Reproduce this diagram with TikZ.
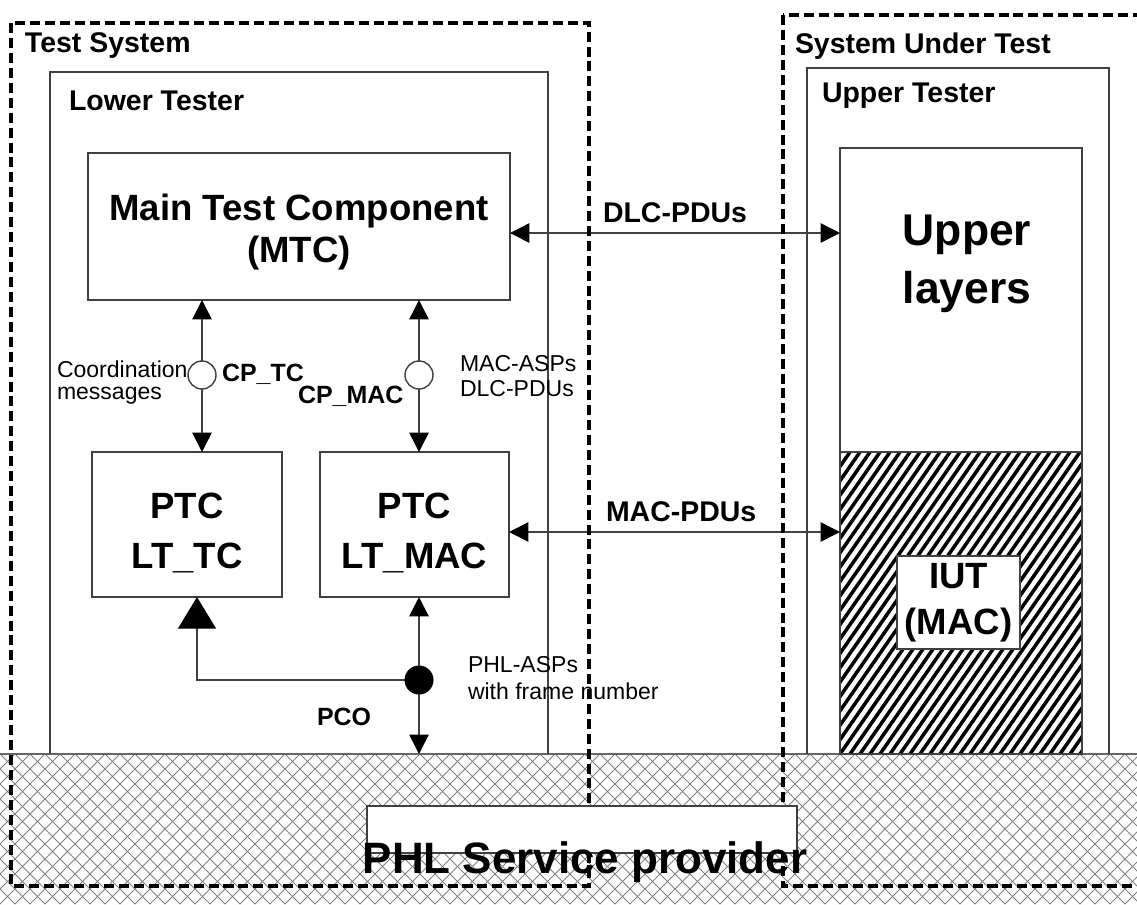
\documentclass[tikz,border=0pt]{standalone}
\usepackage{fontspec}
\setmainfont{Liberation Sans}
\usepackage{tikz}
\usetikzlibrary{arrows.meta,positioning,calc}

\begin{document}
\begin{tikzpicture}[x=0.2mm, y=-0.2mm, outer sep=0pt,
    >={Triangle[length=11pt, width=11pt, color=black]},
    frame/.style={draw=black!75, line width=0.8pt},
    box/.style={rectangle, draw=black!75, line width=0.8pt, fill=white, inner sep=0pt, align=center},
    comp/.style={inner sep=0pt, align=center, font=\fontsize{20.8}{#1}\selectfont\bfseries},
    sysline/.style={draw=black, line width=2.3pt, dash pattern=on 5.7pt off 2.8pt},
    title/.style={inner sep=0pt, font=\fontsize{16.2}{19}\selectfont\bfseries},
    cplabel/.style={inner sep=0pt, font=\fontsize{14.2}{17}\selectfont\bfseries},
    note/.style={inner sep=0pt, align=left},
    link/.style={draw=black!75, line width=0.85pt},
    cross/.style={draw=black!50, line width=0.5pt},
    stripe/.style={draw=black, line width=2pt},
    port/.style={circle, draw=black!75, line width=0.8pt, fill=white, minimum size=5.6mm, inner sep=0pt}]
    \useasboundingbox (0,0) rectangle (1137,904);

    % physical medium
    \coordinate (medium) at (0,754);
    \begin{scope}
        \clip (0,754) rectangle (1137,904);
        \foreach \i in {-150,-135,...,1290} {
            \draw[cross] (\i,754) -- ++(150,150);
            \draw[cross] (\i,754) -- ++(-150,150);
        }
    \end{scope}
    \draw[draw=black!60, line width=0.8pt] (0,754) -- (1137,754);

    % testers
    \draw[frame] (50,754) |- (548,72) -- (548,754);
    \draw[frame] (807,754) |- (1109,68) -- (1109,754);
    \node (tstitle) [title, anchor=base west] at (25,52) {Test System};
    \node (suttitle) [title, anchor=base west] at (795,53) {System Under Test};
    \node (lttitle) [title, anchor=base west] at (69,110) {Lower Tester};
    \node (uttitle) [title, anchor=base west] at (822,102) {Upper Tester};

    % system under test
    \node (ul) [box, minimum width=48.4mm, minimum height=121.2mm] at (961,451) {};
    \node (ultext) [align=center, inner sep=0pt, font=\fontsize{25.3}{33}\selectfont\bfseries] at (967,264) {Upper\\layers};
    \begin{scope}
        \clip (840,452) rectangle (1082,754);
        \foreach \i in {630,640,...,1090}
            \draw[stripe] (\i,754) -- ++(210,-302);
    \end{scope}
    \node (iutarea) [rectangle, draw=black!75, line width=0.8pt, inner sep=0pt, minimum width=48.4mm, minimum height=60.4mm] at (961,603) {};
    \node (iut) [box, minimum width=24.6mm, minimum height=18.6mm, font=\fontsize{20.8}{26.2}\selectfont\bfseries] at (958.5,602.5) {IUT\\(MAC)};

    % lower tester components
    \node (mtc) [box, minimum width=84.4mm, minimum height=29.4mm] at (299,226.5) {};
    \node (mtctext) [comp=23.9] at ([yshift=-1.2mm]mtc.center) {Main Test Component\\(MTC)};
    \node (lttc) [box, minimum width=38mm, minimum height=29mm] at (187,524.5) {};
    \node (lttctext) [comp=28.5] at ([yshift=-1.7mm]lttc.center) {PTC\\LT\_TC};
    \node (ltmac) [box, minimum width=37.8mm, minimum height=29mm] at (414.5,524.5) {};
    \node (ltmactext) [comp=28.5] at ([yshift=-1.7mm]ltmac.center) {PTC\\LT\_MAC};

    \node (cptc) [port] at (202,375) {};
    \node (cpmac) [port] at (419,375) {};
    \draw[link, ->] (cptc.north) -- (cptc |- mtc.south);
    \draw[link, ->] (cptc.south) -- (cptc |- lttc.north);
    \draw[link, ->] (cpmac.north) -- (cpmac |- mtc.south);
    \draw[link, ->] (cpmac.south) -- (cpmac |- ltmac.north);

    \coordinate (pco) at (419,680);
    \draw[link, -{Triangle[length=18pt, width=21.6pt, color=black]}] (pco) -| ([xshift=2mm]lttc.south);
    \draw[link, ->] (pco) -- (pco |- ltmac.south);
    \draw[link, ->] (pco) -- (pco |- medium);
    \node (pcodot) [circle, fill=black, minimum size=5.8mm, inner sep=0pt] at (pco) {};

    % peer links
    \coordinate (dlcrow) at (0,233);
    \coordinate (macrow) at (0,532);
    \draw[link, <->] (mtc.east |- dlcrow) -- (ul.west |- dlcrow)
        node (dlclabel) [midway, above=2mm, title] {DLC-PDUs};
    \draw[link, <->] (ltmac.east |- macrow) -- (iutarea.west |- macrow)
        node (maclabel) [pos=0.52, above=2mm, title] {MAC-PDUs};

    % labels
    \node (coordlabel) [note, anchor=west, font=\fontsize{13.1}{12.5}\selectfont] at (57,383) {Coordination\\messages};
    \node (cptclabel) [cplabel, anchor=base west] at (222,381) {CP\_TC};
    \node (cpmaclabel) [cplabel, anchor=base west] at (298,403) {CP\_MAC};
    \node (asplabel) [note, anchor=west, font=\fontsize{13.1}{14.2}\selectfont] at (460,376) {MAC-ASPs\\DLC-PDUs};
    \node (pcolabel) [cplabel, anchor=base west] at (317,725) {PCO};
    \node (phllabel) [note, anchor=west, font=\fontsize{13.1}{15.4}\selectfont] at (468,678) {PHL-ASPs\\with frame number};

    % test system borders
    \draw[sysline] (11,23) rectangle (589,886);
    \draw[sysline] (783,15) rectangle (1160,886);

    % service provider
    \node (phl) [box, minimum width=86mm, minimum height=9.4mm] at (582,829.5) {};
    \node (phltext) [anchor=base, inner sep=0pt, font=\fontsize{25}{30}\selectfont\bfseries] at (585,873) {PHL Service provider};
\end{tikzpicture}
\end{document}
